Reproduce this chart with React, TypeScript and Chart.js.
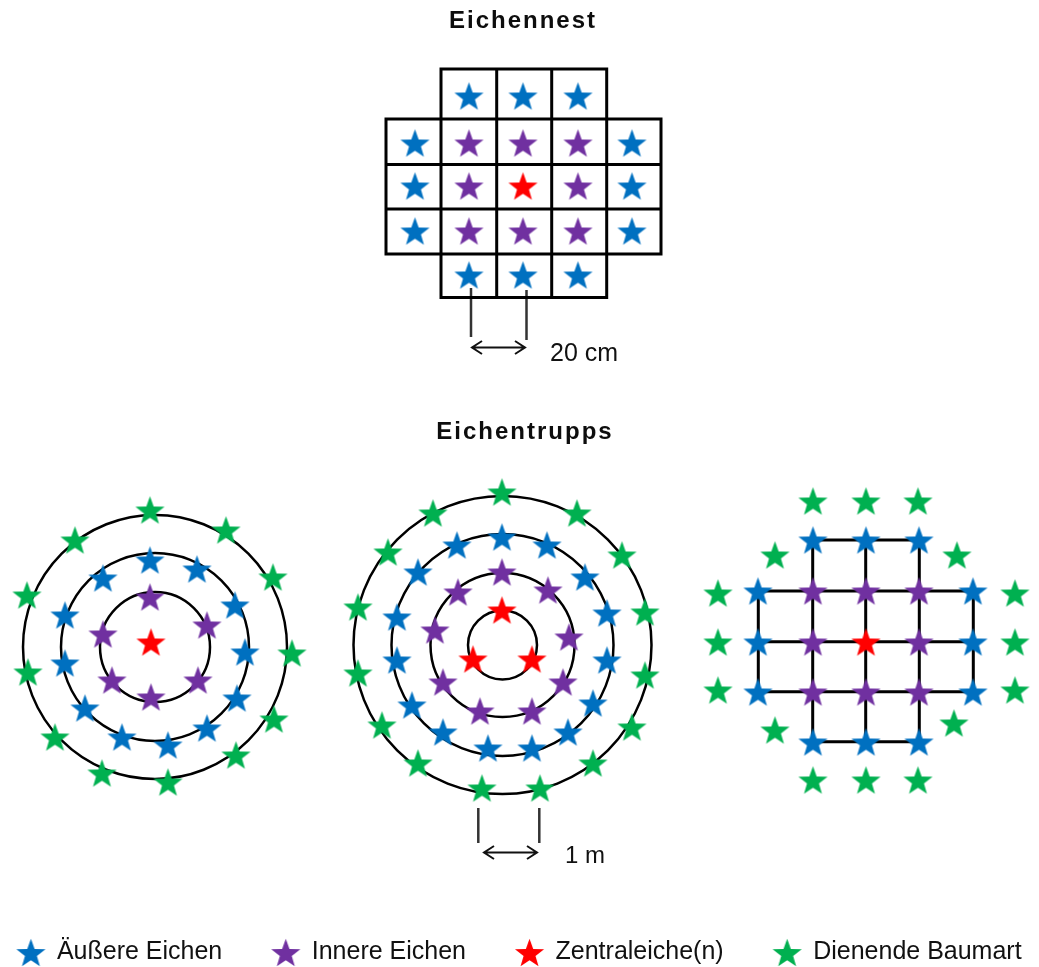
import React, { useEffect, useRef } from 'react';
import { Chart, registerables } from 'chart.js';

Chart.register(...registerables);

// ---------- Series (legend) ----------
const SERIES_NAMES = ['Äußere Eichen', 'Innere Eichen', 'Zentraleiche(n)', 'Dienende Baumart'];
const SERIES_COLORS = ['#0070C0', '#7030A0', '#FF0000', '#00B050'];

// ---------- Eichennest (grid of 20 cm cells) ----------
const NEST_OUTER = [[469, 96], [523, 96], [578, 96], [415, 143], [632, 143], [415, 186], [632, 186], [415, 231], [632, 231], [469, 275], [523, 275], [578, 275]];
const NEST_INNER = [[469, 143], [523, 143], [578, 143], [469, 186], [578, 186], [469, 231], [523, 231], [578, 231]];
const NEST_CENTRAL = [[523, 186]];
const NEST_COL_LINES = [386, 441, 496.7, 551.7, 606.7, 661];
const NEST_ROW_LINES = [69, 119, 164.5, 209, 254, 297.5];

// ---------- Eichentrupp 1 (rings, one central oak) ----------
const T1_CENTRAL = [[151, 642]];
const T1_INNER = [[150, 597], [207, 625], [198, 680], [151, 697], [112, 680], [103, 634]];
const T1_OUTER = [[150, 560], [197, 569], [235, 605], [245, 652], [237, 698], [207, 728], [168, 745], [122, 737], [85, 708], [65, 663], [65, 615], [103, 578]];
const T1_SERVING = [[150, 510], [226, 530], [273, 577], [292, 653], [274, 719], [236, 755], [168, 782], [102, 773], [55, 737], [28, 672], [27, 595], [75, 540]];
const T1_RING_CENTER = [155, 647];
const T1_RING_RADII = [55, 94, 132];

// ---------- Eichentrupp 2 (rings, three central oaks) ----------
const T2_CENTRAL = [[502, 610], [473, 659], [532, 659]];
const T2_INNER = [[502, 572], [548, 590], [569, 637], [563, 682], [532, 711], [480, 711], [443, 682], [435, 630], [458, 592]];
const T2_OUTER = [[502, 537], [547, 545], [585, 577], [607, 613], [607, 660], [593, 703], [568, 732], [532, 748], [488, 748], [443, 732], [412, 705], [397, 660], [397, 617], [418, 572], [457, 545]];
const T2_SERVING = [[502, 492], [577, 513], [622, 555], [645, 612], [645, 675], [632, 727], [593, 763], [540, 788], [482, 788], [418, 763], [382, 725], [358, 673], [358, 607], [388, 552], [433, 513]];
const T2_RING_CENTER = [502.5, 645];
const T2_RING_RADII = [34.5, 72, 111, 149];

// ---------- Eichentrupp 3 (grid) ----------
const T3_OUTER = [[813, 540], [866, 540], [919, 540], [758, 591], [973, 591], [758, 642], [973, 642], [758, 692], [973, 692], [813, 742], [866, 742], [919, 742]];
const T3_INNER = [[813, 591], [866, 591], [919, 591], [813, 642], [919, 642], [813, 692], [866, 692], [919, 692]];
const T3_CENTRAL = [[866, 642]];
const T3_SERVING = [[813, 501], [866, 501], [918, 501], [775, 555], [957, 555], [718, 593], [718, 642], [718, 690], [1015, 593], [1015, 642], [1015, 690], [775, 730], [954, 723], [813, 780], [866, 780], [918, 780]];
const T3_COL_LINES = [758.3, 812.7, 865.7, 919.3, 973.3];
const T3_ROW_LINES = [540, 591, 641.7, 691.7, 741.7];

// ---------- Dimension marks ----------
const DIM_TICKS = [[471, 288, 337], [526.5, 290, 340], [478.3, 808, 843], [539.3, 808, 843]]; // x, y1, y2
const DIM_ARROWS = [[472, 525, 347.5], [484, 537, 852.5]]; // x1, x2, y
const SCALE_LABELS = ['20 cm', '1 m'];
const SCALE_LABEL_POS = [[550, 360.7], [565, 863.3]];

// ---------- Titles ----------
const DIAGRAM_TITLES = ['Eichennest', 'Eichentrupps'];
const TITLE_POS = [[523, 27.7], [525, 438.7]];

// ---------- Layout constants ----------
const CANVAS_W = 1039;
const CANVAS_H = 975;
const SIDE_PAD = 33; // lets the legend row use a little more than the canvas width
const LEGEND_FONT = 25;
const LEGEND_PAD = 50;
const X_MIN = 0;
const X_MAX = CANVAS_W;
const Y_MAX = CANVAS_H - (LEGEND_FONT + LEGEND_PAD + 10);
const FONT_FAMILY = '"Liberation Sans", Arial, Helvetica, sans-serif';
const STAR_R = 15.3;
const ARROW_HEAD_LEN = 10;
const ARROW_HEAD_HALF = 6.5;

const GAP = () => ({ x: NaN, y: NaN });
const pts = (a: number[][]) => a.map(([x, y]) => ({ x, y }));

function makeStar(color: string, R: number): HTMLCanvasElement {
  const r = R * 0.41;
  const size = Math.ceil(2 * R + 4);
  const c = document.createElement('canvas');
  c.width = size;
  c.height = size;
  const g = c.getContext('2d')!;
  const cx = size / 2;
  const cy = size / 2 + R * 0.0955;
  g.beginPath();
  for (let i = 0; i < 10; i++) {
    const rad = i % 2 === 0 ? R : r;
    const a = -Math.PI / 2 + (i * Math.PI) / 5;
    const px = cx + rad * Math.cos(a);
    const py = cy + rad * Math.sin(a);
    if (i === 0) g.moveTo(px, py);
    else g.lineTo(px, py);
  }
  g.closePath();
  g.fillStyle = color;
  g.fill();
  return c;
}

function gridSegments(cols: number[], rows: number[]) {
  const out: any[] = [];
  const nC = cols.length;
  const nR = rows.length;
  rows.forEach((y, i) => {
    const edge = i === 0 || i === nR - 1;
    out.push({ x: edge ? cols[1] : cols[0], y }, { x: edge ? cols[nC - 2] : cols[nC - 1], y }, GAP());
  });
  cols.forEach((x, j) => {
    const edge = j === 0 || j === nC - 1;
    out.push({ x, y: edge ? rows[1] : rows[0] }, { x, y: edge ? rows[nR - 2] : rows[nR - 1] }, GAP());
  });
  return out;
}

function tickSegments(ticks: number[][]) {
  const out: any[] = [];
  ticks.forEach(([x, y1, y2]) => out.push({ x, y: y1 }, { x, y: y2 }, GAP()));
  return out;
}

function arrowSegments(arrows: number[][]) {
  const out: any[] = [];
  const h = ARROW_HEAD_LEN;
  const w = ARROW_HEAD_HALF;
  arrows.forEach(([x1, x2, y]) => {
    out.push(
      { x: x1 + h, y: y - w }, { x: x1, y }, { x: x1 + h, y: y + w }, GAP(),
      { x: x1, y }, { x: x2, y }, GAP(),
      { x: x2 - h, y: y - w }, { x: x2, y }, { x: x2 - h, y: y + w }, GAP()
    );
  });
  return out;
}

function rings(center: number[], radii: number[]) {
  return radii.map((r) => ({ x: center[0], y: center[1], r }));
}

const textPlugin = {
  id: 'diagramTexts',
  afterDatasetsDraw(chart: any) {
    const { ctx } = chart;
    const xs = chart.scales.x;
    const ys = chart.scales.y;
    ctx.save();
    ctx.fillStyle = '#0d0d0d';
    ctx.textBaseline = 'alphabetic';
    ctx.font = `bold 24px ${FONT_FAMILY}`;
    ctx.textAlign = 'center';
    (ctx as any).letterSpacing = '2px';
    DIAGRAM_TITLES.forEach((t, i) => {
      ctx.fillText(t, xs.getPixelForValue(TITLE_POS[i][0]), ys.getPixelForValue(TITLE_POS[i][1]));
    });
    (ctx as any).letterSpacing = '0px';
    ctx.textAlign = 'left';
    ctx.fillStyle = '#111111';
    SCALE_LABELS.forEach((t, i) => {
      ctx.font = `${i === 0 ? 25 : 24}px ${FONT_FAMILY}`;
      ctx.fillText(t, xs.getPixelForValue(SCALE_LABEL_POS[i][0]), ys.getPixelForValue(SCALE_LABEL_POS[i][1]));
    });
    ctx.restore();
  },
};

export default function App() {
  const canvasRef = useRef<HTMLCanvasElement | null>(null);

  useEffect(() => {
    document.body.style.margin = '0';
    const canvas = canvasRef.current;
    if (!canvas) return;
    const stars = SERIES_COLORS.map((c) => makeStar(c, STAR_R));

    const starGroups = [
      [...NEST_OUTER, ...T1_OUTER, ...T2_OUTER, ...T3_OUTER],
      [...NEST_INNER, ...T1_INNER, ...T2_INNER, ...T3_INNER],
      [...NEST_CENTRAL, ...T1_CENTRAL, ...T2_CENTRAL, ...T3_CENTRAL],
      [...T1_SERVING, ...T2_SERVING, ...T3_SERVING],
    ];

    const starDatasets = starGroups.map((g, k) => ({
      type: 'scatter' as const,
      label: SERIES_NAMES[k],
      data: pts(g),
      pointStyle: stars[k],
      pointRadius: 10,
      pointHoverRadius: 10,
      backgroundColor: SERIES_COLORS[k],
      borderColor: SERIES_COLORS[k],
      clip: false as any,
    }));

    const lineBase = {
      type: 'line' as const,
      pointRadius: 0,
      pointHoverRadius: 0,
      spanGaps: false,
      fill: false,
      tension: 0,
      clip: false as any,
    };

    const chart = new Chart(canvas, {
      type: 'scatter',
      data: {
        datasets: [
          ...starDatasets,
          { ...lineBase, label: 'nest-grid', data: gridSegments(NEST_COL_LINES, NEST_ROW_LINES), borderColor: '#000', borderWidth: 3, borderCapStyle: 'square' },
          { ...lineBase, label: 'trupp-grid', data: gridSegments(T3_COL_LINES, T3_ROW_LINES), borderColor: '#000', borderWidth: 3, borderCapStyle: 'square' },
          { ...lineBase, label: 'ticks', data: tickSegments(DIM_TICKS), borderColor: '#333', borderWidth: 2.5 },
          { ...lineBase, label: 'arrows', data: arrowSegments(DIM_ARROWS), borderColor: '#111', borderWidth: 2, borderJoinStyle: 'miter' },
          {
            type: 'bubble' as const,
            label: 'rings',
            data: [...rings(T1_RING_CENTER, T1_RING_RADII), ...rings(T2_RING_CENTER, T2_RING_RADII)],
            backgroundColor: 'rgba(0,0,0,0)',
            borderColor: '#000',
            borderWidth: 2.5,
            hoverRadius: 0,
            clip: false as any,
          },
        ] as any,
      },
      options: {
        responsive: false,
        animation: false,
        events: [],
        layout: { autoPadding: false, padding: { left: -SIDE_PAD, right: -SIDE_PAD, top: 0, bottom: 0 } },
        scales: {
          x: { type: 'linear', min: X_MIN, max: X_MAX, display: false },
          y: { type: 'linear', min: 0, max: Y_MAX, reverse: true, display: false },
        },
        plugins: {
          tooltip: { enabled: false },
          title: { display: false },
          legend: {
            display: true,
            position: 'bottom',
            align: 'center',
            labels: {
              usePointStyle: true,
              pointStyleWidth: 27,
              padding: LEGEND_PAD,
              color: '#111111',
              font: { family: FONT_FAMILY, size: LEGEND_FONT },
              filter: (item: any) => item.datasetIndex < 4,
            },
          },
        },
      } as any,
      plugins: [textPlugin],
    });

    return () => chart.destroy();
  }, []);

  return (
    <div style={{ width: CANVAS_W, height: 967, overflow: 'hidden', background: '#ffffff' }}>
      <canvas ref={canvasRef} width={CANVAS_W} height={CANVAS_H} style={{ display: 'block' }} />
    </div>
  );
}
